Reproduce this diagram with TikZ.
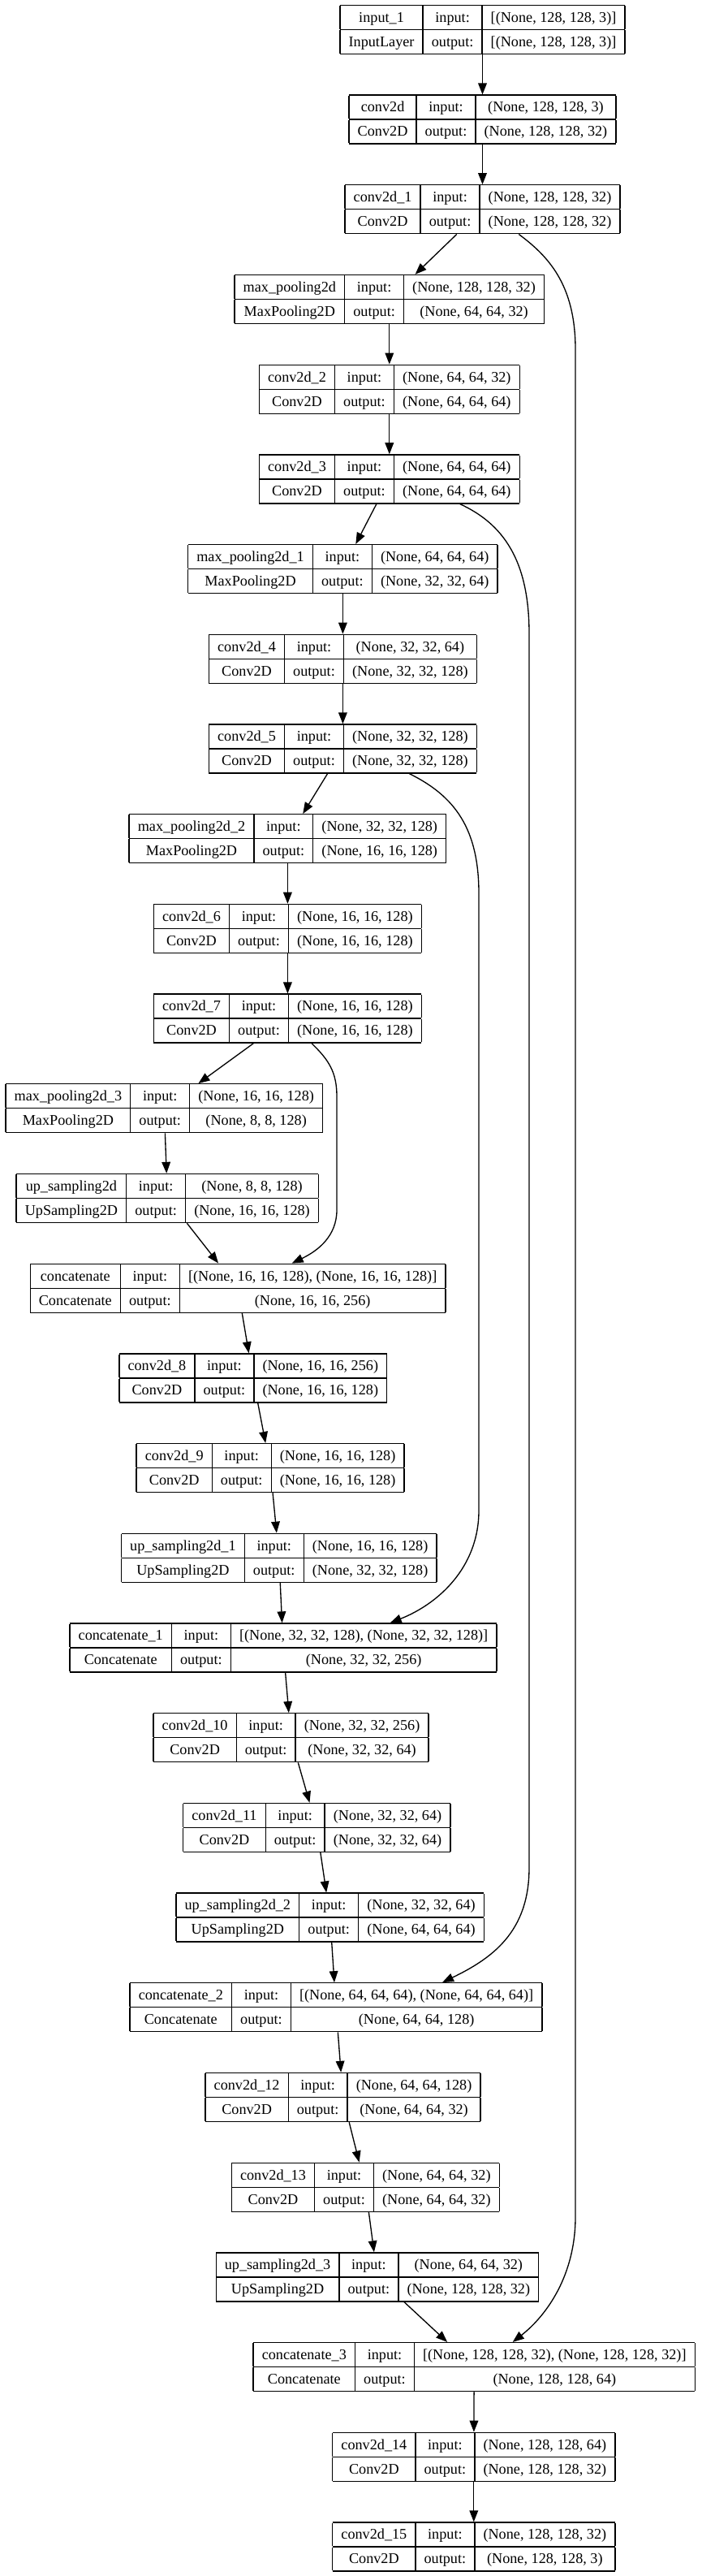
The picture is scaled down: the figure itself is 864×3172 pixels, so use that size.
\documentclass[tikz,border=0pt]{standalone}
\usepackage{fontspec}
\setmainfont{Liberation Serif}
\usetikzlibrary{arrows.meta,calc}
\setlength\tabcolsep{8pt}
\setlength\arrayrulewidth{1pt}
\renewcommand\arraystretch{0}
\newcommand\rowstrut{\rule[-6.4pt]{0pt}{21.5pt}}
\newcommand\mylayer[7]{\node[lyr] (#1) at (#2,#3) {\begin{tabular}{|c|c|c|}\hline\rowstrut #4 & input: & #6\\\hline\rowstrut #5 & output: & #7\\\hline\end{tabular}};}
\begin{document}
\begin{tikzpicture}[x=0.75pt,y=-0.75pt,
  lyr/.style={inner sep=0pt,outer sep=0pt,font=\fontsize{13.65pt}{16pt}\selectfont},
  edg/.style={line width=1pt,-{Triangle[length=10.5pt,width=8pt]}}]
\fill[white] (0,0) rectangle (864,3172);
\useasboundingbox (0,0) rectangle (864,3172);
\mylayer{L0}{594.5}{36.4}{input\_1}{InputLayer}{[(None, 128, 128, 3)]}{[(None, 128, 128, 3)]}
\mylayer{L1}{594.5}{147.1}{conv2d}{Conv2D}{(None, 128, 128, 3)}{(None, 128, 128, 32)}
\mylayer{L2}{594.5}{257.8}{conv2d\_1}{Conv2D}{(None, 128, 128, 32)}{(None, 128, 128, 32)}
\mylayer{L3}{479.8}{368.5}{max\_pooling2d}{MaxPooling2D}{(None, 128, 128, 32)}{(None, 64, 64, 32)}
\mylayer{L4}{479.8}{479.2}{conv2d\_2}{Conv2D}{(None, 64, 64, 32)}{(None, 64, 64, 64)}
\mylayer{L5}{479.8}{589.9}{conv2d\_3}{Conv2D}{(None, 64, 64, 64)}{(None, 64, 64, 64)}
\mylayer{L6}{422.4}{700.6}{max\_pooling2d\_1}{MaxPooling2D}{(None, 64, 64, 64)}{(None, 32, 32, 64)}
\mylayer{L7}{422.4}{811.3}{conv2d\_4}{Conv2D}{(None, 32, 32, 64)}{(None, 32, 32, 128)}
\mylayer{L8}{422.4}{922.0}{conv2d\_5}{Conv2D}{(None, 32, 32, 128)}{(None, 32, 32, 128)}
\mylayer{L9}{354.4}{1032.7}{max\_pooling2d\_2}{MaxPooling2D}{(None, 32, 32, 128)}{(None, 16, 16, 128)}
\mylayer{L10}{354.4}{1143.4}{conv2d\_6}{Conv2D}{(None, 16, 16, 128)}{(None, 16, 16, 128)}
\mylayer{L11}{354.4}{1254.1}{conv2d\_7}{Conv2D}{(None, 16, 16, 128)}{(None, 16, 16, 128)}
\mylayer{L12}{202.3}{1364.8}{max\_pooling2d\_3}{MaxPooling2D}{(None, 16, 16, 128)}{(None, 8, 8, 128)}
\mylayer{L13}{206.3}{1475.5}{up\_sampling2d}{UpSampling2D}{(None, 8, 8, 128)}{(None, 16, 16, 128)}
\mylayer{L14}{293.1}{1586.2}{concatenate}{Concatenate}{[(None, 16, 16, 128), (None, 16, 16, 128)]}{(None, 16, 16, 256)}
\mylayer{L15}{311.8}{1696.9}{conv2d\_8}{Conv2D}{(None, 16, 16, 256)}{(None, 16, 16, 128)}
\mylayer{L16}{333.1}{1807.6}{conv2d\_9}{Conv2D}{(None, 16, 16, 128)}{(None, 16, 16, 128)}
\mylayer{L17}{343.8}{1918.3}{up\_sampling2d\_1}{UpSampling2D}{(None, 16, 16, 128)}{(None, 32, 32, 128)}
\mylayer{L18}{349.0}{2029.0}{concatenate\_1}{Concatenate}{[(None, 32, 32, 128), (None, 32, 32, 128)]}{(None, 32, 32, 256)}
\mylayer{L19}{358.5}{2139.7}{conv2d\_10}{Conv2D}{(None, 32, 32, 256)}{(None, 32, 32, 64)}
\mylayer{L20}{390.3}{2250.4}{conv2d\_11}{Conv2D}{(None, 32, 32, 64)}{(None, 32, 32, 64)}
\mylayer{L21}{406.7}{2361.1}{up\_sampling2d\_2}{UpSampling2D}{(None, 32, 32, 64)}{(None, 64, 64, 64)}
\mylayer{L22}{414.0}{2471.8}{concatenate\_2}{Concatenate}{[(None, 64, 64, 64), (None, 64, 64, 64)]}{(None, 64, 64, 128)}
\mylayer{L23}{422.5}{2582.5}{conv2d\_12}{Conv2D}{(None, 64, 64, 128)}{(None, 64, 64, 32)}
\mylayer{L24}{450.3}{2693.2}{conv2d\_13}{Conv2D}{(None, 64, 64, 32)}{(None, 64, 64, 32)}
\mylayer{L25}{465.0}{2803.9}{up\_sampling2d\_3}{UpSampling2D}{(None, 64, 64, 32)}{(None, 128, 128, 32)}
\mylayer{L26}{584.2}{2914.6}{concatenate\_3}{Concatenate}{[(None, 128, 128, 32), (None, 128, 128, 32)]}{(None, 128, 128, 64)}
\mylayer{L27}{583.8}{3025.3}{conv2d\_14}{Conv2D}{(None, 128, 128, 64)}{(None, 128, 128, 32)}
\mylayer{L28}{583.8}{3136.0}{conv2d\_15}{Conv2D}{(None, 128, 128, 32)}{(None, 128, 128, 3)}
\foreach \a/\b in {L0/L1,L1/L2,L2/L3,L3/L4,L4/L5,L5/L6,L6/L7,L7/L8,L8/L9,L9/L10,L10/L11,L11/L12,L12/L13,L13/L14,L14/L15,L15/L16,L16/L17,L17/L18,L18/L19,L19/L20,L20/L21,L21/L22,L22/L23,L23/L24,L24/L25,L25/L26,L26/L27,L27/L28}
  \draw[edg] (\a) -- (\b);
% skip connections
\coordinate (sDa) at ($(L2.south)+(44.8,0)$);
\coordinate (sDb) at ($(L26.north)+(47.5,0)$);
\draw[edg] (sDa) .. controls (675,315) and (709,350) .. (709,430) -- (709,2730) .. controls (709,2800) and (675,2850) .. (sDb);
\coordinate (sCa) at ($(L5.south)+(86.9,0)$);
\coordinate (sCb) at ($(L22.north)+(131,0)$);
\draw[edg] (sCa) .. controls (620,645) and (652,690) .. (652,780) -- (652,2300) .. controls (652,2380) and (605,2412) .. (sCb);
\coordinate (sBa) at ($(L8.south)+(82,0)$);
\coordinate (sBb) at ($(L18.north)+(131.7,0)$);
\draw[edg] (sBa) .. controls (560,980) and (590,1020) .. (590,1100) -- (590,1860) .. controls (590,1930) and (540,1975) .. (sBb);
\coordinate (sAa) at ($(L11.south)+(29.6,0)$);
\coordinate (sAb) at ($(L14.north)+(66.6,0)$);
\draw[edg] (sAa) .. controls (405,1305) and (415,1320) .. (415,1350) -- (415,1490) .. controls (415,1522) and (392,1540) .. (sAb);
\end{tikzpicture}
\end{document}
